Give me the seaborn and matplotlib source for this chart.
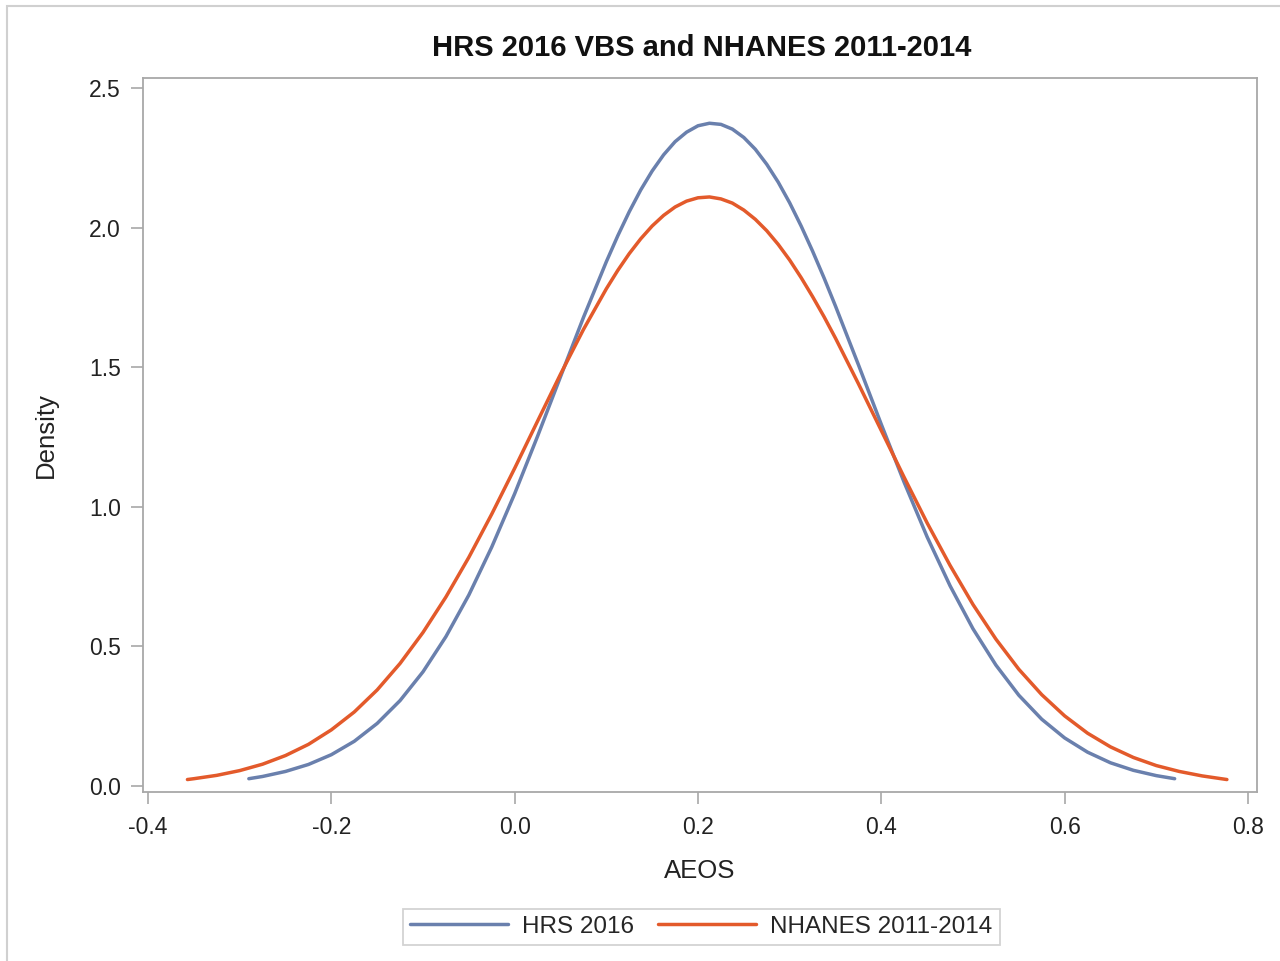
#!/usr/bin/env python3
"""
Density curves of AEOS: HRS 2016 VBS vs NHANES 2011-2014.
"""
import matplotlib
matplotlib.use("Agg")
import matplotlib.pyplot as plt
import pandas as pd
import seaborn as sns
from matplotlib.patches import Rectangle

# values
hrs_x = [-0.29, -0.275, -0.25, -0.225, -0.2, -0.175, -0.15, -0.125, -0.1, -0.075,
         -0.05, -0.025, 0.0, 0.025, 0.05, 0.075, 0.1, 0.1125, 0.125, 0.1375,
         0.15, 0.1625, 0.175, 0.1875, 0.2, 0.2125, 0.225, 0.2375, 0.25, 0.2625,
         0.275, 0.2875, 0.3, 0.3125, 0.325, 0.3375, 0.35, 0.375, 0.4, 0.425,
         0.45, 0.475, 0.5, 0.525, 0.55, 0.575, 0.6, 0.625, 0.65, 0.675,
         0.7, 0.72]
hrs_y = [0.026, 0.034, 0.052, 0.077, 0.112, 0.160, 0.224, 0.306, 0.409, 0.535,
         0.684, 0.856, 1.047, 1.253, 1.466, 1.678, 1.878, 1.971, 2.057, 2.135,
         2.203, 2.261, 2.308, 2.342, 2.365, 2.374, 2.370, 2.353, 2.323, 2.281,
         2.227, 2.163, 2.089, 2.006, 1.916, 1.820, 1.719, 1.509, 1.295, 1.087,
         0.892, 0.717, 0.563, 0.433, 0.325, 0.239, 0.172, 0.121, 0.083, 0.056,
         0.037, 0.026]

nhanes_x = [-0.357, -0.35, -0.325, -0.3, -0.275, -0.25, -0.225, -0.2, -0.175, -0.15,
            -0.125, -0.1, -0.075, -0.05, -0.025, 0.0, 0.025, 0.05, 0.075, 0.1,
            0.1125, 0.125, 0.1375, 0.15, 0.1625, 0.175, 0.1875, 0.2, 0.2125, 0.225,
            0.2375, 0.25, 0.2625, 0.275, 0.2875, 0.3, 0.3125, 0.325, 0.3375, 0.35,
            0.375, 0.4, 0.425, 0.45, 0.475, 0.5, 0.525, 0.55, 0.575, 0.6,
            0.625, 0.65, 0.675, 0.7, 0.725, 0.75, 0.777]
nhanes_y = [0.023, 0.026, 0.038, 0.055, 0.078, 0.109, 0.149, 0.201, 0.265, 0.344,
            0.439, 0.550, 0.677, 0.819, 0.974, 1.138, 1.307, 1.475, 1.635, 1.781,
            1.847, 1.907, 1.960, 2.006, 2.044, 2.074, 2.095, 2.107, 2.110, 2.103,
            2.088, 2.063, 2.030, 1.989, 1.940, 1.884, 1.821, 1.753, 1.681, 1.604,
            1.441, 1.273, 1.105, 0.942, 0.790, 0.650, 0.526, 0.418, 0.327, 0.251,
            0.189, 0.140, 0.102, 0.073, 0.052, 0.036, 0.023]

series_names = ["HRS 2016", "NHANES 2011-2014"]
x_ticks = [-0.4, -0.2, 0.0, 0.2, 0.4, 0.6, 0.8]
y_ticks = [0.0, 0.5, 1.0, 1.5, 2.0, 2.5]

df = pd.concat([
    pd.DataFrame({"AEOS": hrs_x, "Density": hrs_y, "Group": series_names[0]}),
    pd.DataFrame({"AEOS": nhanes_x, "Density": nhanes_y, "Group": series_names[1]}),
])

sns.set_style("white")
plt.rcParams["font.family"] = ["Liberation Sans", "DejaVu Sans"]

fig = plt.figure(figsize=(12.8, 9.61), dpi=100)
ax = fig.add_axes([0.1117, 0.1759, 0.8703, 0.7429])

palette = {series_names[0]: "#6A80AD", series_names[1]: "#E35A2B"}
sns.lineplot(data=df, x="AEOS", y="Density", hue="Group", palette=palette,
             linewidth=2.5, sort=False, estimator=None, ax=ax, legend=False)
for line in ax.get_lines():
    line.set_solid_joinstyle("round")
    line.set_solid_capstyle("round")

ax.set_xlim(-0.4055, 0.8098)
ax.set_ylim(-0.0215, 2.536)
ax.set_xticks(x_ticks)
ax.set_xticklabels([f"{v:.1f}" for v in x_ticks])
ax.set_yticks(y_ticks)
ax.set_yticklabels([f"{v:.1f}" for v in y_ticks])
ax.tick_params(axis="both", direction="out", length=8.5, width=1.2,
               color="#A8A8A8", labelsize=16.5, labelcolor="#222222",
               bottom=True, left=True)
ax.tick_params(axis="x", pad=9)
ax.tick_params(axis="y", pad=7.5)
for sp in ax.spines.values():
    sp.set_color("#A8A8A8")
    sp.set_linewidth(1.3)

ax.set_xlabel("AEOS", fontsize=18.5, color="#222222", labelpad=14)
ax.set_ylabel("Density", fontsize=18.5, color="#222222", labelpad=22)
fig.text(0.548, 0.9505, "HRS 2016 VBS and NHANES 2011-2014", ha="center",
         va="center", fontsize=21, fontweight="bold", color="#111111")

handles = [plt.Line2D([], [], color=palette[n], linewidth=2.5) for n in series_names]
leg = fig.legend(handles, series_names, loc="center", bbox_to_anchor=(0.548, 0.0354),
                 ncol=2, fontsize=17.5, frameon=True, fancybox=False,
                 handlelength=4.0, columnspacing=1.0, handletextpad=0.6,
                 borderpad=0.3)
leg.get_frame().set_edgecolor("#C8C8C8")
leg.get_frame().set_linewidth(1.3)

# light outer border of the graph area
fig.patches.append(Rectangle((7 / 1280, -0.01), 1.02, 1 - 6 / 961 + 0.01,
                             transform=fig.transFigure, fill=False,
                             edgecolor="#D0D0D0", linewidth=1.5))

plt.savefig("out.png", dpi=100)
